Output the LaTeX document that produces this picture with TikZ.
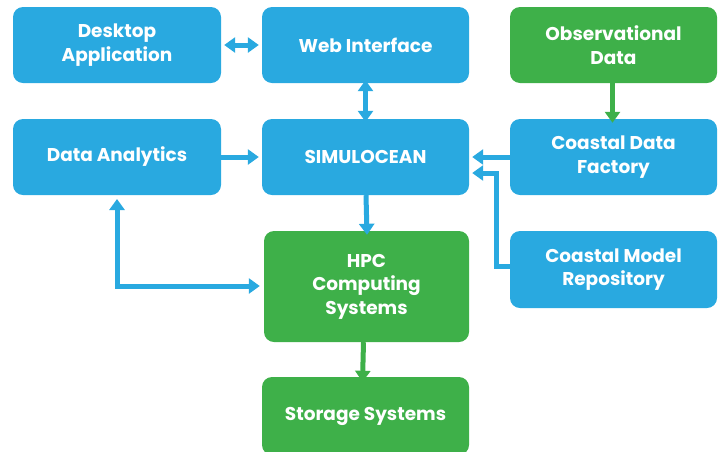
\documentclass[tikz,border=0pt]{standalone}
\usepackage{fontspec}
\setmainfont{Poppins}
\usetikzlibrary{arrows.meta,positioning}
\definecolor{bblue}{HTML}{29A9E0}
\definecolor{bgreen}{HTML}{3EB049}
\begin{document}
\begin{tikzpicture}[x=1pt,y=-1pt,
  box/.style={rounded corners=10pt,text=white,align=center,inner sep=0pt,
    font=\fontsize{18.5}{23.5}\selectfont\bfseries},
  bluebox/.style={box,fill=bblue},
  greenbox/.style={box,fill=bgreen},
  conn/.style={line width=5pt,-{Triangle[width=15pt,length=11pt]}},
  bconn/.style={conn,draw=bblue},
  gconn/.style={conn,draw=bgreen},
  both/.style={line width=5pt,{Triangle[width=15pt,length=11pt]}-{Triangle[width=15pt,length=11pt]},draw=bblue}]
\useasboundingbox (0,0) rectangle (722,451);
\node[bluebox,minimum width=208pt,minimum height=76pt] (desk) at (117,45) {Desktop\\Application};
\node[bluebox,minimum width=207pt,minimum height=76pt] (web) at (365.5,45) {Web Interface};
\node[greenbox,minimum width=207pt,minimum height=76pt] (obs) at (613.5,45) {Observational\\Data};
\node[bluebox,minimum width=208pt,minimum height=76pt] (da) at (117,157) {Data Analytics};
\node[bluebox,minimum width=207pt,minimum height=76pt] (sim) at (365.5,157) {SIMULOCEAN};
\node[bluebox,minimum width=207pt,minimum height=76pt] (cdf) at (613.5,157) {Coastal Data\\Factory};
\node[greenbox,minimum width=205pt,minimum height=111pt] (hpc) at (366.5,286.5) {HPC\\Computing\\Systems};
\node[bluebox,minimum width=207pt,minimum height=77pt] (cmr) at (613.5,269.5) {Coastal Model\\Repository};
\node[greenbox,minimum width=207pt,minimum height=78pt] (sto) at (365.5,416) {Storage Systems};
\draw[both] ([xshift=3pt]desk.east) -- ([xshift=-3pt]web.west);
\draw[both] ([yshift=3pt]web.south) -- ([yshift=-3pt]sim.north);
\draw[bconn] ([xshift=0.5pt]sim.south) -- ([xshift=0.5pt,yshift=-4pt]hpc.north);
\draw[gconn] ([xshift=-3pt]hpc.south) -- ([xshift=-3pt,yshift=-5pt]sto.north);
\draw[gconn] ([xshift=-1pt]obs.south) -- ([xshift=-1pt,yshift=-4pt]cdf.north);
\draw[bconn] (cdf.west) -- ([xshift=3pt]sim.east);
\draw[bconn] (da.east) -- ([xshift=-3pt]sim.west);
\draw[bconn] ([yshift=3pt]cmr.west) -| (496,173) -- ([xshift=3pt]sim.east |- 0,173);
\draw[both] (117,199) |- ([xshift=-4pt]hpc.west |- 0,286);
\end{tikzpicture}
\end{document}
